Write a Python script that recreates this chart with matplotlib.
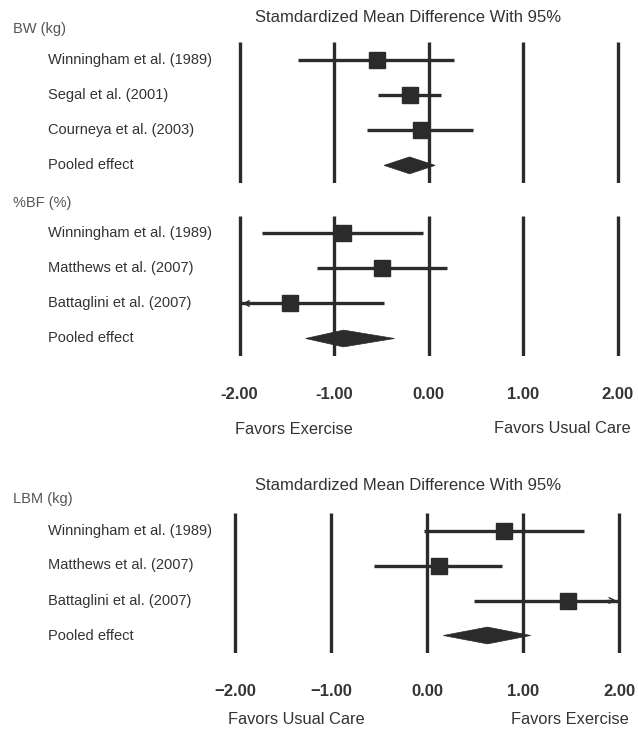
import matplotlib
matplotlib.use("Agg")
import matplotlib.pyplot as plt
from matplotlib.patches import Polygon
from matplotlib.transforms import blended_transform_factory

plt.rcParams['font.family'] = ['Liberation Sans', 'DejaVu Sans']

# ---------------- data ----------------
bw_studies = ["Winningham et al. (1989)", "Segal et al. (2001)", "Courneya et al. (2003)"]
bw_est = [-0.55, -0.20, -0.08]
bw_lo = [-1.38, -0.53, -0.65]
bw_hi = [0.27, 0.13, 0.47]
bw_pooled = (-0.20, -0.47, 0.07)  # estimate, low, high

bf_studies = ["Winningham et al. (1989)", "Matthews et al. (2007)", "Battaglini et al. (2007)"]
bf_est = [-0.90, -0.49, -1.47]
bf_lo = [-1.76, -1.18, -2.40]
bf_hi = [-0.06, 0.20, -0.47]
bf_pooled = (-0.90, -1.30, -0.36)

lbm_studies = ["Winningham et al. (1989)", "Matthews et al. (2007)", "Battaglini et al. (2007)"]
lbm_est = [0.80, 0.12, 1.47]
lbm_lo = [-0.03, -0.55, 0.49]
lbm_hi = [1.64, 0.78, 2.40]
lbm_pooled = (0.63, 0.17, 1.08)

ref_lines = [-2, -1, 0, 1, 2]
top_ticklabels = ["-2.00", "-1.00", "0.00", "1.00", "2.00"]
bot_ticklabels = ["\u22122.00", "\u22121.00", "0.00", "1.00", "2.00"]
title = "Stamdardized Mean Difference With 95%"

W, H = 638, 731
DARK = "#2b2b2b"
TXT = "#333333"
SEC = "#555555"

fig = plt.figure(figsize=(W / 100, H / 100), dpi=100)


def fx(px):
    return px / W


def fy(py):
    return 1 - py / H


def make_ax(zero_px, unit_px, top_px, bot_px):
    left = zero_px - 2.2 * unit_px
    width = 4.4 * unit_px
    ax = fig.add_axes([fx(left), fy(bot_px), width / W, (bot_px - top_px) / H])
    ax.set_xlim(-2.2, 2.2)
    ax.set_ylim(3.5, -0.5)
    for s in ax.spines.values():
        s.set_visible(False)
    ax.set_yticks([])
    ax.set_xticks([])
    ax.patch.set_alpha(0)
    return ax


def draw_block(ax, studies, est, lo, hi, pooled):
    ax.vlines(ref_lines, -0.5, 3.5, color=DARK, lw=2.4, zorder=1)
    tr = blended_transform_factory(fig.transFigure, ax.transData)
    for i, name in enumerate(studies):
        l, h = lo[i], hi[i]
        lc, hc = max(l, -2.0), min(h, 2.0)
        ax.plot([lc, hc], [i, i], color=DARK, lw=2.4, solid_capstyle='butt', zorder=2)
        if l < -2.0:
            ax.annotate("", xy=(-2.0, i), xytext=(-1.85, i),
                        arrowprops=dict(arrowstyle='->', color=DARK, lw=1.0,
                                        mutation_scale=10), zorder=3)
        if h > 2.0:
            ax.annotate("", xy=(2.0, i), xytext=(1.85, i),
                        arrowprops=dict(arrowstyle='->', color=DARK, lw=1.0,
                                        mutation_scale=10), zorder=3)
        ax.plot(est[i], i, marker='s', ms=11, color=DARK, mec=DARK, zorder=4)
        ax.text(fx(48), i, name, transform=tr, ha='left', va='center',
                fontsize=10.5, color=TXT)
    e, l, h = pooled
    y = len(studies)
    hh = 0.24
    diamond = Polygon([(l, y), (e, y - hh), (h, y), (e, y + hh)], closed=True,
                      facecolor=DARK, edgecolor=DARK, lw=0.5, zorder=4)
    ax.add_patch(diamond)
    ax.text(fx(48), y, "Pooled effect", transform=tr, ha='left', va='center',
            fontsize=10.5, color=TXT)


# top panel
ax1 = make_ax(428.5, 94.5, 42, 183)
draw_block(ax1, bw_studies, bw_est, bw_lo, bw_hi, bw_pooled)
ax2 = make_ax(428.5, 94.5, 216, 356)
draw_block(ax2, bf_studies, bf_est, bf_lo, bf_hi, bf_pooled)
ax2.set_xticks(ref_lines, top_ticklabels)
ax2.tick_params(axis='x', length=0, pad=22, labelsize=12, labelcolor=TXT)
for t in ax2.get_xticklabels():
    t.set_fontweight('bold')

fig.text(fx(408), fy(18), title, ha='center', va='center', fontsize=12, color=TXT)
fig.text(fx(13), fy(29), "BW (kg)", ha='left', va='center', fontsize=10.5, color=SEC)
fig.text(fx(13), fy(203), "%BF (%)", ha='left', va='center', fontsize=10.5, color=SEC)
fig.text(fx(294), fy(430), "Favors Exercise", ha='center', va='center', fontsize=11.8, color=TXT)
fig.text(fx(562), fy(428), "Favors Usual Care", ha='center', va='center', fontsize=11.8, color=TXT)

# bottom panel
ax3 = make_ax(427, 96, 513, 653)
draw_block(ax3, lbm_studies, lbm_est, lbm_lo, lbm_hi, lbm_pooled)
ax3.set_xticks(ref_lines, bot_ticklabels)
ax3.tick_params(axis='x', length=0, pad=22, labelsize=12, labelcolor=TXT)
for t in ax3.get_xticklabels():
    t.set_fontweight('bold')

fig.text(fx(408), fy(485), title, ha='center', va='center', fontsize=12, color=TXT)
fig.text(fx(13), fy(499), "LBM (kg)", ha='left', va='center', fontsize=10.5, color=SEC)
fig.text(fx(296), fy(720), "Favors Usual Care", ha='center', va='center', fontsize=11.8, color=TXT)
fig.text(fx(570), fy(720), "Favors Exercise", ha='center', va='center', fontsize=11.8, color=TXT)

fig.savefig("out.png", dpi=100, facecolor='white')
